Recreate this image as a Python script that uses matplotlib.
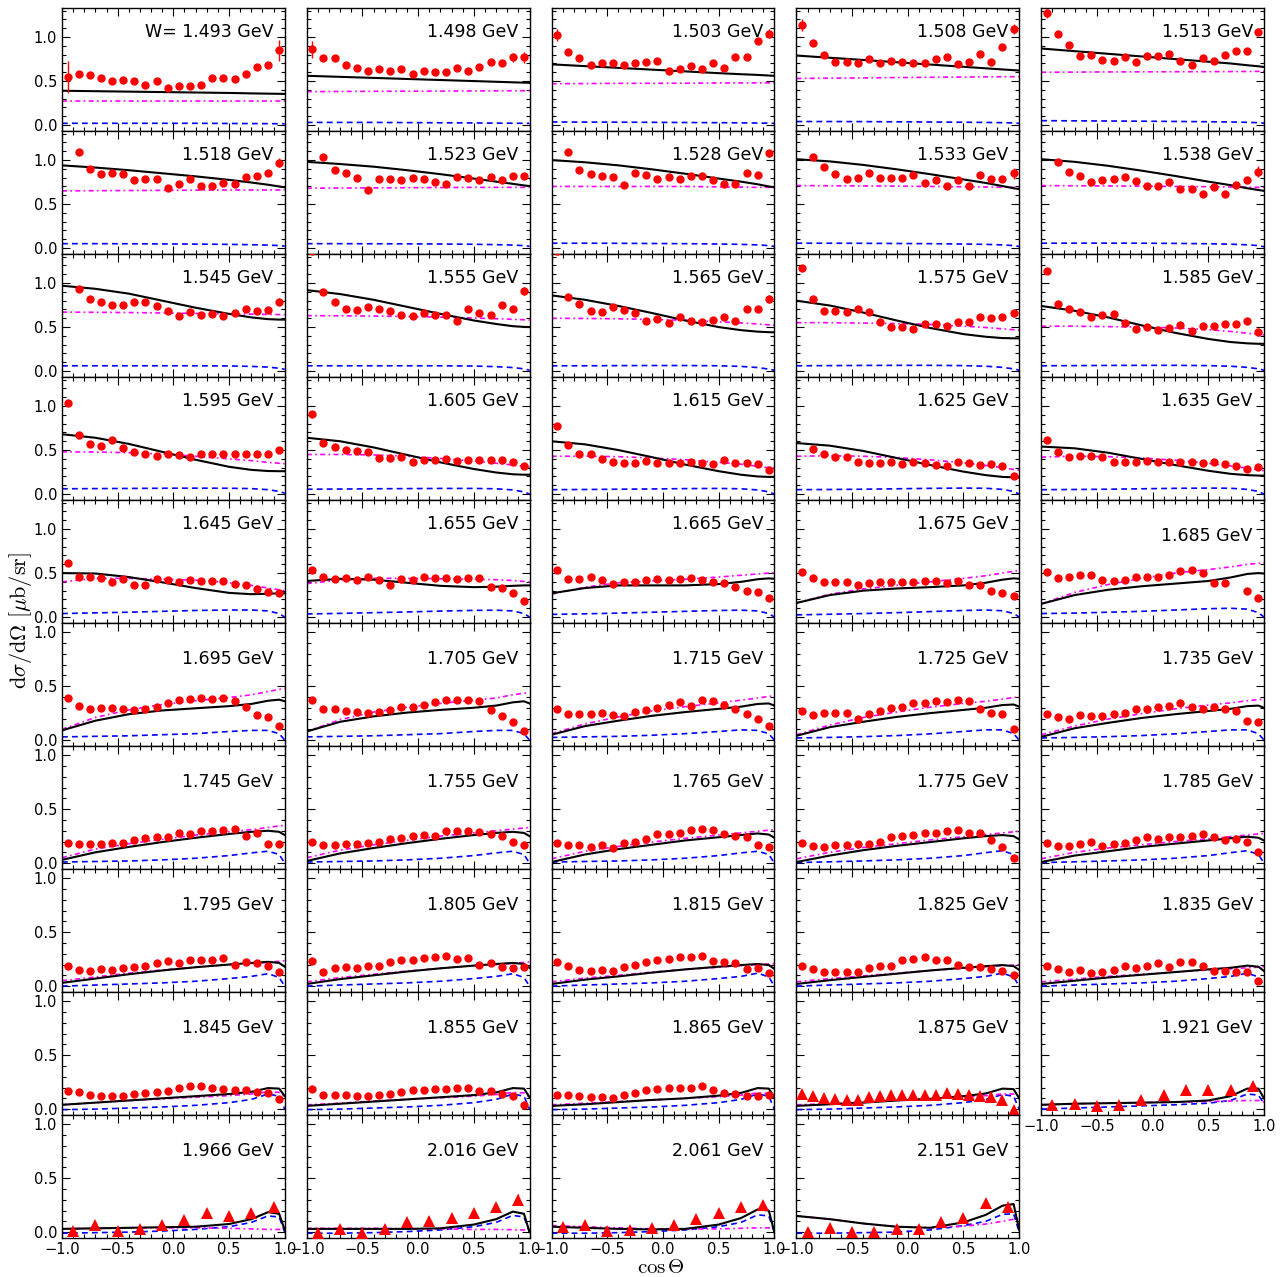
import numpy as np
import matplotlib.pyplot as plt
from matplotlib.ticker import MultipleLocator

plt.rcParams['mathtext.fontset'] = 'cm'
plt.rcParams['font.family'] = 'DejaVu Sans'

na = np.nan

# W bins (GeV)
energies = ['1.493', '1.498', '1.503', '1.508', '1.513',
            '1.518', '1.523', '1.528', '1.533', '1.538',
            '1.545', '1.555', '1.565', '1.575', '1.585',
            '1.595', '1.605', '1.615', '1.625', '1.635',
            '1.645', '1.655', '1.665', '1.675', '1.685',
            '1.695', '1.705', '1.715', '1.725', '1.735',
            '1.745', '1.755', '1.765', '1.775', '1.785',
            '1.795', '1.805', '1.815', '1.825', '1.835',
            '1.845', '1.855', '1.865', '1.875', '1.921',
            '1.966', '2.016', '2.061', '2.151']

# angular bins of the data sets
cos_fine = [-0.95, -0.85, -0.75, -0.65, -0.55, -0.45, -0.35, -0.25, -0.15, -0.05,
            0.05, 0.15, 0.25, 0.35, 0.45, 0.55, 0.65, 0.75, 0.85, 0.95]
cos_coarse = [-0.9, -0.7, -0.5, -0.3, -0.1, 0.1, 0.3, 0.5, 0.7, 0.9]
# angles where the model curves are tabulated
cos_model = [-1.0, -0.7, -0.4, -0.1, 0.2, 0.5, 0.7, 0.85, 0.95, 1.0]

# measured dsigma/dOmega [mub/sr]
xsec = [
    [0.55, 0.58, 0.57, 0.53, 0.50, 0.51, 0.50, 0.45, 0.50, 0.42, 0.44, 0.44, 0.46, 0.53, 0.54, 0.52, 0.58, 0.66, 0.68, 0.85],
    [0.86, 0.76, 0.76, 0.68, 0.65, 0.61, 0.64, 0.62, 0.64, 0.58, 0.61, 0.60, 0.60, 0.65, 0.61, 0.66, 0.72, 0.71, 0.77, 0.77],
    [1.02, 0.83, 0.76, 0.68, 0.71, 0.70, 0.68, 0.70, 0.72, 0.73, 0.62, 0.64, 0.67, 0.64, 0.70, 0.65, 0.77, 0.77, 0.95, 1.04],
    [1.14, 0.93, 0.80, 0.72, 0.72, 0.70, 0.75, 0.71, 0.73, 0.72, 0.70, 0.70, 0.75, 0.77, 0.69, 0.72, 0.81, 0.72, 0.89, 1.09],
    [1.27, 1.04, 0.91, 0.79, 0.80, 0.74, 0.73, 0.77, 0.72, 0.78, 0.79, 0.81, 0.73, 0.68, 0.76, 0.73, 0.80, 0.84, 0.84, 1.06],
    [na, 1.09, 0.90, 0.84, 0.85, 0.84, 0.77, 0.78, 0.78, 0.68, 0.73, 0.79, 0.71, 0.71, 0.74, 0.73, 0.81, 0.82, 0.85, 0.97],
    [na, 1.04, 0.89, 0.85, 0.80, 0.66, 0.78, 0.78, 0.77, 0.80, 0.79, 0.75, 0.73, 0.81, 0.80, 0.77, 0.81, 0.77, 0.82, 0.82],
    [na, 1.09, 0.89, 0.84, 0.82, 0.81, 0.72, 0.85, 0.83, 0.78, 0.81, 0.78, 0.82, 0.82, 0.77, 0.73, 0.73, 0.85, 0.83, 1.08],
    [na, 1.04, 0.92, 0.84, 0.79, 0.80, 0.85, 0.80, 0.80, 0.80, 0.83, 0.74, 0.77, 0.71, 0.77, 0.71, 0.83, 0.79, 0.79, 0.85],
    [na, 0.98, 0.87, 0.82, 0.75, 0.77, 0.78, 0.81, 0.76, 0.71, 0.71, 0.75, 0.67, 0.67, 0.61, 0.69, 0.61, 0.72, 0.77, 0.87],
    [na, 0.93, 0.82, 0.79, 0.75, 0.75, 0.78, 0.78, 0.74, 0.68, 0.63, 0.67, 0.64, 0.65, 0.63, 0.66, 0.70, 0.68, 0.69, 0.79],
    [1.36, 0.90, 0.78, 0.71, 0.69, 0.73, 0.71, 0.68, 0.64, 0.63, 0.66, 0.64, 0.64, 0.57, 0.70, 0.66, 0.64, 0.75, 0.70, 0.91],
    [1.36, 0.84, 0.76, 0.68, 0.67, 0.73, 0.69, 0.66, 0.57, 0.59, 0.55, 0.61, 0.57, 0.56, 0.58, 0.62, 0.57, 0.71, 0.71, 0.82],
    [1.17, 0.82, 0.68, 0.68, 0.67, 0.70, 0.67, 0.56, 0.50, 0.50, 0.48, 0.53, 0.53, 0.51, 0.56, 0.56, 0.62, 0.60, 0.61, 0.66],
    [1.14, 0.76, 0.70, 0.67, 0.61, 0.64, 0.65, 0.55, 0.48, 0.50, 0.47, 0.49, 0.52, 0.46, 0.51, 0.51, 0.53, 0.54, 0.57, 0.44],
    [1.03, 0.67, 0.57, 0.55, 0.61, 0.52, 0.48, 0.46, 0.43, 0.46, 0.44, 0.42, 0.46, 0.46, 0.45, 0.46, 0.46, 0.46, 0.46, 0.50],
    [0.91, 0.58, 0.54, 0.50, 0.49, 0.48, 0.41, 0.41, 0.42, 0.37, 0.39, 0.39, 0.40, 0.38, 0.39, 0.39, 0.39, 0.39, 0.36, 0.32],
    [0.77, 0.56, 0.45, 0.45, 0.40, 0.37, 0.35, 0.35, 0.38, 0.35, 0.35, 0.35, 0.36, 0.35, 0.34, 0.39, 0.35, 0.35, 0.34, 0.27],
    [na, 0.51, 0.45, 0.42, 0.42, 0.36, 0.35, 0.35, 0.37, 0.34, 0.36, 0.35, 0.33, 0.32, 0.37, 0.35, 0.33, 0.34, 0.32, 0.21],
    [0.62, 0.48, 0.42, 0.43, 0.43, 0.42, 0.37, 0.36, 0.37, 0.38, 0.36, 0.37, 0.37, 0.37, 0.35, 0.36, 0.34, 0.32, 0.29, 0.31],
    [0.61, 0.46, 0.46, 0.44, 0.40, 0.43, 0.37, 0.36, 0.43, 0.42, 0.40, 0.42, 0.41, 0.41, 0.41, 0.38, 0.37, 0.32, 0.29, 0.27],
    [0.53, 0.46, 0.43, 0.44, 0.42, 0.46, 0.42, 0.37, 0.43, 0.42, 0.46, 0.44, 0.44, 0.43, 0.44, 0.44, 0.34, 0.33, 0.27, 0.18],
    [0.54, 0.43, 0.43, 0.46, 0.42, 0.38, 0.40, 0.40, 0.42, 0.43, 0.42, 0.43, 0.44, 0.42, 0.40, 0.39, 0.34, 0.30, 0.28, 0.22],
    [0.51, 0.44, 0.40, 0.40, 0.40, 0.37, 0.39, 0.40, 0.40, 0.40, 0.40, 0.41, 0.41, 0.39, 0.41, 0.36, 0.36, 0.30, 0.27, 0.24],
    [0.51, 0.44, 0.46, 0.48, 0.48, 0.42, 0.41, 0.42, 0.45, 0.45, 0.45, 0.48, 0.52, 0.53, 0.50, 0.39, 0.39, na, 0.30, 0.22],
    [0.39, 0.32, 0.29, 0.30, 0.30, 0.29, 0.28, 0.29, 0.31, 0.34, 0.37, 0.38, 0.39, 0.38, 0.39, 0.36, 0.31, 0.23, 0.21, 0.13],
    [0.37, 0.29, 0.29, 0.27, 0.26, 0.25, 0.26, 0.28, 0.31, 0.31, 0.33, 0.35, 0.37, 0.37, 0.37, 0.36, 0.28, 0.22, 0.17, 0.08],
    [0.29, 0.24, 0.24, 0.24, 0.25, 0.23, 0.22, 0.26, 0.28, 0.30, 0.33, 0.35, 0.32, 0.37, 0.36, 0.33, 0.29, 0.24, 0.20, 0.13],
    [0.27, 0.23, 0.25, 0.25, 0.25, 0.20, 0.24, 0.27, 0.30, 0.31, 0.34, 0.34, 0.36, 0.35, 0.37, 0.36, 0.29, 0.25, 0.24, 0.10],
    [0.24, 0.21, 0.20, 0.23, 0.22, 0.22, 0.24, 0.25, 0.29, 0.29, 0.31, 0.32, 0.34, 0.31, 0.29, 0.31, 0.29, 0.27, 0.18, 0.17],
    [0.19, 0.18, 0.18, 0.18, 0.19, 0.19, 0.21, 0.23, 0.24, 0.24, 0.28, 0.27, 0.30, 0.30, 0.31, 0.32, 0.25, 0.28, 0.18, 0.18],
    [0.20, 0.17, 0.17, 0.18, 0.18, 0.19, 0.20, 0.22, 0.23, 0.25, 0.26, 0.25, 0.30, 0.30, 0.30, 0.29, 0.27, 0.25, 0.20, 0.17],
    [0.19, 0.17, 0.17, 0.15, 0.17, 0.14, 0.19, 0.20, 0.22, 0.27, 0.27, 0.28, 0.31, 0.32, 0.31, 0.27, 0.25, 0.24, 0.17, 0.15],
    [0.19, 0.16, 0.15, 0.17, 0.17, 0.18, 0.18, 0.20, 0.24, 0.25, 0.26, 0.28, 0.28, 0.30, 0.31, 0.28, 0.28, 0.21, 0.15, 0.05],
    [0.19, 0.16, 0.16, 0.18, 0.20, 0.16, 0.18, 0.19, 0.21, 0.24, 0.22, 0.24, 0.24, 0.25, 0.27, 0.24, 0.21, 0.22, 0.20, 0.10],
    [0.19, 0.15, 0.14, 0.16, 0.15, 0.17, 0.18, 0.19, 0.21, 0.23, 0.21, 0.24, 0.24, 0.24, 0.26, 0.20, 0.22, 0.21, 0.19, 0.13],
    [0.23, 0.13, 0.17, 0.18, 0.17, 0.19, 0.19, 0.22, 0.24, 0.24, 0.26, 0.27, 0.28, 0.25, 0.26, 0.20, 0.21, 0.18, 0.17, 0.18],
    [0.22, 0.19, 0.15, 0.14, 0.15, 0.14, 0.18, 0.20, 0.22, 0.24, 0.25, 0.27, 0.27, 0.28, 0.23, 0.22, 0.21, 0.16, 0.17, 0.12],
    [0.19, 0.16, 0.13, 0.13, 0.13, 0.13, 0.17, 0.19, 0.19, 0.24, 0.25, 0.27, 0.24, 0.24, 0.20, 0.18, 0.18, 0.16, 0.14, 0.10],
    [0.19, 0.16, 0.13, 0.15, 0.12, 0.13, 0.15, 0.19, 0.17, 0.19, 0.21, 0.18, 0.22, 0.22, 0.19, 0.14, 0.14, 0.13, 0.13, 0.05],
    [0.17, 0.16, 0.13, 0.12, 0.12, 0.12, 0.14, 0.15, 0.16, 0.17, 0.20, 0.21, 0.21, 0.20, 0.19, 0.18, 0.18, 0.16, 0.15, 0.09],
    [0.19, 0.13, 0.13, 0.13, 0.12, 0.12, 0.13, 0.14, 0.16, 0.18, 0.18, 0.19, 0.19, 0.20, 0.20, 0.17, 0.17, 0.14, 0.12, 0.04],
    [0.13, 0.13, 0.12, 0.11, 0.11, 0.10, 0.13, 0.15, 0.18, 0.19, 0.20, 0.20, 0.20, 0.21, 0.18, 0.15, 0.14, 0.12, 0.12, 0.13],
    [0.14, 0.12, 0.10, 0.09, 0.08, 0.08, 0.11, 0.12, 0.13, 0.13, 0.13, 0.13, 0.13, 0.15, 0.14, 0.13, 0.12, 0.11, 0.08, -0.01],
    [0.04, 0.05, 0.03, 0.04, 0.08, 0.13, 0.18, 0.18, 0.18, 0.21],
    [0.01, 0.07, 0.01, 0.03, 0.07, 0.11, 0.18, 0.15, 0.18, 0.23],
    [-0.01, 0.03, -0.01, 0.03, 0.09, 0.10, 0.13, 0.18, 0.23, 0.30],
    [0.05, 0.07, 0.01, 0.02, 0.04, 0.07, 0.12, 0.18, 0.23, 0.25],
    [0.00, 0.04, 0.00, 0.00, 0.03, 0.03, 0.09, 0.13, 0.27, 0.23],
]

# typical uncertainty of a point, and the few wide ones (panel, point): error
err_typical = [0.02] * 25 + [0.015] * 24
err_wide = {(0, 0): 0.18, (0, 19): 0.12, (1, 0): 0.10, (1, 18): 0.05, (1, 19): 0.06,
            (2, 0): 0.07, (2, 19): 0.05, (3, 0): 0.07, (3, 19): 0.06, (4, 0): 0.05,
            (4, 19): 0.04, (5, 19): 0.05, (7, 19): 0.04, (8, 19): 0.06, (9, 19): 0.06,
            (10, 19): 0.04, (11, 19): 0.05, (12, 19): 0.05, (13, 19): 0.05, (14, 19): 0.04,
            (46, 9): 0.05}

# full model (solid black)
model_full = [
    [0.39, 0.385, 0.38, 0.375, 0.37, 0.365, 0.36, 0.357, 0.355, 0.354],
    [0.56, 0.548, 0.536, 0.524, 0.512, 0.50, 0.492, 0.486, 0.482, 0.48],
    [0.69, 0.67, 0.65, 0.63, 0.61, 0.59, 0.578, 0.57, 0.563, 0.56],
    [0.79, 0.765, 0.74, 0.714, 0.688, 0.662, 0.645, 0.632, 0.624, 0.62],
    [0.87, 0.84, 0.81, 0.78, 0.75, 0.72, 0.70, 0.68, 0.668, 0.66],
    [0.94, 0.915, 0.885, 0.85, 0.815, 0.775, 0.745, 0.72, 0.70, 0.69],
    [0.98, 0.955, 0.925, 0.885, 0.84, 0.79, 0.755, 0.73, 0.712, 0.705],
    [1.00, 0.975, 0.94, 0.895, 0.845, 0.79, 0.755, 0.725, 0.70, 0.69],
    [1.01, 0.985, 0.945, 0.895, 0.84, 0.78, 0.74, 0.705, 0.68, 0.67],
    [1.01, 0.98, 0.935, 0.88, 0.82, 0.755, 0.715, 0.68, 0.66, 0.65],
    [0.97, 0.935, 0.88, 0.80, 0.72, 0.65, 0.61, 0.59, 0.585, 0.585],
    [0.92, 0.875, 0.81, 0.73, 0.65, 0.575, 0.535, 0.51, 0.502, 0.50],
    [0.86, 0.81, 0.74, 0.66, 0.575, 0.50, 0.465, 0.448, 0.442, 0.44],
    [0.80, 0.745, 0.665, 0.575, 0.49, 0.42, 0.39, 0.375, 0.372, 0.372],
    [0.74, 0.685, 0.61, 0.52, 0.435, 0.365, 0.33, 0.315, 0.31, 0.31],
    [0.68, 0.64, 0.57, 0.48, 0.39, 0.31, 0.275, 0.262, 0.26, 0.26],
    [0.64, 0.60, 0.53, 0.445, 0.36, 0.285, 0.245, 0.225, 0.22, 0.22],
    [0.60, 0.565, 0.50, 0.42, 0.335, 0.26, 0.22, 0.20, 0.195, 0.195],
    [0.58, 0.55, 0.49, 0.41, 0.33, 0.255, 0.215, 0.195, 0.19, 0.19],
    [0.54, 0.52, 0.47, 0.40, 0.33, 0.265, 0.23, 0.215, 0.21, 0.21],
    [0.50, 0.495, 0.455, 0.395, 0.33, 0.275, 0.26, 0.265, 0.27, 0.27],
    [0.41, 0.435, 0.425, 0.39, 0.355, 0.34, 0.345, 0.355, 0.36, 0.36],
    [0.27, 0.33, 0.36, 0.36, 0.36, 0.375, 0.40, 0.43, 0.44, 0.435],
    [0.16, 0.25, 0.30, 0.325, 0.34, 0.36, 0.39, 0.425, 0.44, 0.435],
    [0.15, 0.25, 0.31, 0.35, 0.38, 0.41, 0.45, 0.49, 0.50, 0.495],
    [0.09, 0.18, 0.24, 0.275, 0.295, 0.315, 0.335, 0.365, 0.375, 0.36],
    [0.08, 0.17, 0.22, 0.255, 0.28, 0.30, 0.32, 0.35, 0.36, 0.34],
    [0.05, 0.13, 0.18, 0.225, 0.26, 0.29, 0.31, 0.335, 0.34, 0.32],
    [0.04, 0.12, 0.17, 0.215, 0.25, 0.28, 0.30, 0.325, 0.33, 0.31],
    [0.03, 0.11, 0.16, 0.205, 0.24, 0.27, 0.29, 0.315, 0.32, 0.30],
    [0.03, 0.10, 0.15, 0.195, 0.235, 0.27, 0.29, 0.30, 0.29, 0.26],
    [0.02, 0.09, 0.14, 0.185, 0.225, 0.26, 0.28, 0.29, 0.28, 0.25],
    [0.01, 0.08, 0.13, 0.17, 0.21, 0.24, 0.26, 0.275, 0.265, 0.235],
    [0.01, 0.07, 0.12, 0.16, 0.195, 0.23, 0.25, 0.26, 0.25, 0.22],
    [0.01, 0.07, 0.11, 0.15, 0.18, 0.21, 0.23, 0.245, 0.235, 0.21],
    [0.03, 0.07, 0.11, 0.145, 0.175, 0.20, 0.215, 0.225, 0.215, 0.18],
    [0.02, 0.065, 0.10, 0.135, 0.165, 0.19, 0.205, 0.215, 0.205, 0.17],
    [0.02, 0.06, 0.09, 0.125, 0.155, 0.18, 0.195, 0.205, 0.195, 0.16],
    [0.02, 0.055, 0.085, 0.115, 0.145, 0.17, 0.185, 0.195, 0.185, 0.15],
    [0.02, 0.05, 0.08, 0.105, 0.13, 0.155, 0.17, 0.19, 0.18, 0.14],
    [0.04, 0.06, 0.08, 0.10, 0.12, 0.14, 0.16, 0.195, 0.19, 0.12],
    [0.03, 0.05, 0.07, 0.09, 0.11, 0.13, 0.155, 0.195, 0.19, 0.11],
    [0.03, 0.045, 0.065, 0.085, 0.10, 0.125, 0.15, 0.195, 0.19, 0.11],
    [0.03, 0.045, 0.06, 0.08, 0.095, 0.12, 0.145, 0.19, 0.185, 0.10],
    [0.04, 0.05, 0.055, 0.06, 0.065, 0.08, 0.12, 0.19, 0.19, 0.10],
    [0.03, 0.035, 0.04, 0.045, 0.05, 0.075, 0.12, 0.185, 0.17, 0.02],
    [0.03, 0.03, 0.03, 0.03, 0.035, 0.07, 0.12, 0.19, 0.17, 0.00],
    [0.05, 0.04, 0.03, 0.025, 0.03, 0.07, 0.13, 0.21, 0.20, 0.00],
    [0.15, 0.12, 0.08, 0.05, 0.04, 0.09, 0.16, 0.245, 0.26, 0.02],
]

# partial model (magenta dash-dot)
model_dashdot = [
    [0.27, 0.27, 0.27, 0.27, 0.27, 0.27, 0.27, 0.27, 0.27, 0.27],
    [0.38, 0.382, 0.384, 0.385, 0.386, 0.388, 0.389, 0.39, 0.39, 0.39],
    [0.47, 0.472, 0.474, 0.475, 0.476, 0.478, 0.479, 0.48, 0.48, 0.48],
    [0.53, 0.533, 0.536, 0.54, 0.543, 0.546, 0.548, 0.549, 0.55, 0.55],
    [0.60, 0.602, 0.604, 0.605, 0.606, 0.607, 0.608, 0.609, 0.61, 0.61],
    [0.65, 0.652, 0.654, 0.656, 0.658, 0.66, 0.66, 0.66, 0.66, 0.66],
    [0.68, 0.682, 0.684, 0.686, 0.688, 0.69, 0.69, 0.69, 0.69, 0.69],
    [0.70, 0.70, 0.70, 0.70, 0.70, 0.695, 0.693, 0.69, 0.69, 0.69],
    [0.71, 0.708, 0.706, 0.704, 0.70, 0.697, 0.694, 0.692, 0.69, 0.69],
    [0.71, 0.708, 0.706, 0.704, 0.70, 0.697, 0.694, 0.692, 0.69, 0.69],
    [0.67, 0.668, 0.665, 0.66, 0.655, 0.65, 0.647, 0.644, 0.642, 0.64],
    [0.63, 0.628, 0.625, 0.62, 0.613, 0.603, 0.595, 0.588, 0.583, 0.58],
    [0.60, 0.598, 0.594, 0.587, 0.577, 0.56, 0.547, 0.535, 0.525, 0.52],
    [0.55, 0.55, 0.545, 0.54, 0.53, 0.51, 0.495, 0.48, 0.47, 0.465],
    [0.51, 0.51, 0.505, 0.50, 0.49, 0.47, 0.45, 0.43, 0.415, 0.41],
    [0.48, 0.478, 0.47, 0.455, 0.43, 0.40, 0.38, 0.36, 0.35, 0.345],
    [0.45, 0.45, 0.445, 0.43, 0.405, 0.375, 0.35, 0.33, 0.315, 0.31],
    [0.43, 0.43, 0.425, 0.41, 0.39, 0.36, 0.34, 0.315, 0.30, 0.295],
    [0.43, 0.435, 0.43, 0.415, 0.39, 0.355, 0.325, 0.30, 0.28, 0.27],
    [0.42, 0.43, 0.425, 0.41, 0.385, 0.35, 0.32, 0.295, 0.275, 0.265],
    [0.40, 0.44, 0.44, 0.43, 0.42, 0.39, 0.36, 0.33, 0.31, 0.30],
    [0.38, 0.42, 0.44, 0.44, 0.435, 0.43, 0.425, 0.415, 0.405, 0.40],
    [0.26, 0.34, 0.39, 0.41, 0.43, 0.455, 0.475, 0.49, 0.50, 0.505],
    [0.16, 0.26, 0.32, 0.36, 0.40, 0.44, 0.47, 0.50, 0.52, 0.53],
    [0.15, 0.28, 0.37, 0.44, 0.50, 0.54, 0.57, 0.60, 0.61, 0.62],
    [0.10, 0.21, 0.28, 0.33, 0.365, 0.395, 0.42, 0.45, 0.47, 0.48],
    [0.08, 0.19, 0.26, 0.305, 0.34, 0.37, 0.39, 0.42, 0.435, 0.44],
    [0.06, 0.15, 0.215, 0.27, 0.31, 0.345, 0.37, 0.39, 0.405, 0.41],
    [0.05, 0.14, 0.21, 0.26, 0.305, 0.34, 0.36, 0.38, 0.395, 0.40],
    [0.05, 0.13, 0.195, 0.245, 0.29, 0.325, 0.345, 0.365, 0.375, 0.38],
    [0.05, 0.13, 0.18, 0.22, 0.26, 0.29, 0.31, 0.33, 0.345, 0.35],
    [0.05, 0.12, 0.17, 0.21, 0.25, 0.28, 0.30, 0.315, 0.325, 0.33],
    [0.04, 0.11, 0.155, 0.195, 0.23, 0.26, 0.28, 0.295, 0.305, 0.31],
    [0.04, 0.10, 0.145, 0.18, 0.215, 0.245, 0.265, 0.28, 0.29, 0.295],
    [0.04, 0.10, 0.14, 0.17, 0.20, 0.225, 0.245, 0.26, 0.27, 0.275],
    [0.05, 0.085, 0.12, 0.15, 0.175, 0.20, 0.21, 0.22, 0.23, 0.235],
    [0.04, 0.08, 0.11, 0.14, 0.165, 0.19, 0.20, 0.21, 0.22, 0.225],
    [0.04, 0.075, 0.10, 0.13, 0.155, 0.175, 0.19, 0.20, 0.205, 0.21],
    [0.04, 0.07, 0.095, 0.12, 0.145, 0.165, 0.18, 0.19, 0.195, 0.20],
    [0.04, 0.065, 0.09, 0.11, 0.13, 0.15, 0.16, 0.17, 0.175, 0.18],
    [0.04, 0.06, 0.08, 0.095, 0.11, 0.125, 0.14, 0.16, 0.155, 0.12],
    [0.04, 0.055, 0.075, 0.09, 0.105, 0.12, 0.135, 0.155, 0.15, 0.11],
    [0.04, 0.055, 0.07, 0.085, 0.10, 0.115, 0.13, 0.15, 0.145, 0.11],
    [0.04, 0.05, 0.065, 0.08, 0.095, 0.11, 0.125, 0.14, 0.14, 0.11],
    [0.04, 0.05, 0.055, 0.06, 0.065, 0.07, 0.075, 0.08, 0.08, 0.065],
    [0.03, 0.035, 0.04, 0.04, 0.04, 0.035, 0.03, 0.025, 0.025, 0.02],
    [0.035, 0.035, 0.035, 0.03, 0.03, 0.025, 0.025, 0.022, 0.02, 0.02],
    [0.06, 0.05, 0.04, 0.03, 0.03, 0.03, 0.035, 0.04, 0.04, 0.03],
    [0.15, 0.12, 0.08, 0.05, 0.04, 0.055, 0.075, 0.10, 0.12, 0.12],
]

# partial model (blue dashed)
model_dashed = [
    [0.02, 0.02, 0.02, 0.02, 0.02, 0.018, 0.017, 0.016, 0.015, 0.015],
    [0.03, 0.03, 0.03, 0.028, 0.026, 0.024, 0.022, 0.021, 0.02, 0.02],
    [0.035, 0.034, 0.033, 0.031, 0.029, 0.027, 0.025, 0.023, 0.021, 0.02],
    [0.04, 0.04, 0.039, 0.037, 0.035, 0.032, 0.03, 0.027, 0.024, 0.02],
    [0.05, 0.048, 0.046, 0.044, 0.041, 0.038, 0.035, 0.031, 0.027, 0.022],
    [0.05, 0.05, 0.049, 0.047, 0.045, 0.042, 0.038, 0.034, 0.028, 0.022],
    [0.05, 0.05, 0.049, 0.048, 0.046, 0.043, 0.039, 0.034, 0.028, 0.02],
    [0.055, 0.055, 0.054, 0.052, 0.05, 0.046, 0.042, 0.036, 0.028, 0.018],
    [0.055, 0.055, 0.054, 0.052, 0.05, 0.046, 0.042, 0.036, 0.028, 0.018],
    [0.055, 0.056, 0.056, 0.055, 0.053, 0.049, 0.044, 0.037, 0.028, 0.015],
    [0.06, 0.06, 0.06, 0.06, 0.06, 0.058, 0.053, 0.045, 0.032, 0.02],
    [0.06, 0.06, 0.06, 0.06, 0.06, 0.057, 0.05, 0.04, 0.025, 0.01],
    [0.06, 0.06, 0.062, 0.063, 0.063, 0.06, 0.053, 0.04, 0.022, 0.01],
    [0.06, 0.062, 0.064, 0.065, 0.065, 0.062, 0.055, 0.042, 0.025, 0.01],
    [0.06, 0.062, 0.064, 0.065, 0.065, 0.062, 0.055, 0.042, 0.025, 0.01],
    [0.06, 0.062, 0.064, 0.066, 0.067, 0.066, 0.062, 0.05, 0.03, 0.01],
    [0.055, 0.057, 0.06, 0.062, 0.064, 0.064, 0.06, 0.047, 0.025, 0.0],
    [0.05, 0.052, 0.055, 0.058, 0.062, 0.064, 0.06, 0.047, 0.025, 0.0],
    [0.05, 0.052, 0.055, 0.06, 0.065, 0.068, 0.066, 0.053, 0.03, 0.0],
    [0.05, 0.052, 0.055, 0.06, 0.065, 0.068, 0.066, 0.053, 0.03, 0.0],
    [0.04, 0.048, 0.055, 0.065, 0.075, 0.08, 0.08, 0.07, 0.04, 0.0],
    [0.035, 0.042, 0.05, 0.058, 0.068, 0.076, 0.078, 0.07, 0.04, 0.0],
    [0.03, 0.037, 0.045, 0.055, 0.065, 0.075, 0.078, 0.07, 0.04, 0.0],
    [0.025, 0.032, 0.04, 0.05, 0.062, 0.075, 0.08, 0.072, 0.04, 0.0],
    [0.04, 0.045, 0.055, 0.065, 0.08, 0.095, 0.10, 0.09, 0.05, 0.0],
    [0.03, 0.035, 0.04, 0.05, 0.06, 0.08, 0.09, 0.09, 0.06, 0.0],
    [0.03, 0.035, 0.04, 0.05, 0.06, 0.08, 0.09, 0.09, 0.06, 0.0],
    [0.025, 0.03, 0.035, 0.045, 0.06, 0.08, 0.095, 0.09, 0.06, 0.0],
    [0.02, 0.025, 0.032, 0.042, 0.058, 0.08, 0.095, 0.095, 0.06, 0.0],
    [0.02, 0.025, 0.032, 0.042, 0.058, 0.08, 0.095, 0.095, 0.06, 0.0],
    [0.01, 0.015, 0.02, 0.03, 0.045, 0.07, 0.095, 0.11, 0.08, 0.0],
    [0.01, 0.015, 0.02, 0.03, 0.045, 0.07, 0.095, 0.11, 0.08, 0.0],
    [0.01, 0.015, 0.02, 0.03, 0.045, 0.07, 0.095, 0.11, 0.08, 0.0],
    [0.005, 0.012, 0.02, 0.03, 0.045, 0.07, 0.097, 0.115, 0.08, 0.0],
    [0.005, 0.012, 0.02, 0.03, 0.045, 0.07, 0.097, 0.115, 0.08, 0.0],
    [0.0, 0.01, 0.02, 0.03, 0.045, 0.07, 0.09, 0.115, 0.08, 0.0],
    [0.0, 0.01, 0.02, 0.03, 0.045, 0.07, 0.09, 0.115, 0.08, 0.0],
    [0.0, 0.01, 0.02, 0.03, 0.045, 0.07, 0.09, 0.12, 0.085, 0.0],
    [0.0, 0.01, 0.02, 0.03, 0.045, 0.07, 0.09, 0.12, 0.085, 0.0],
    [0.0, 0.01, 0.02, 0.03, 0.045, 0.07, 0.09, 0.12, 0.085, 0.0],
    [-0.005, 0.0, 0.01, 0.02, 0.035, 0.06, 0.09, 0.14, 0.12, 0.0],
    [-0.005, 0.0, 0.01, 0.02, 0.035, 0.06, 0.09, 0.14, 0.12, 0.0],
    [-0.005, 0.0, 0.01, 0.02, 0.035, 0.06, 0.09, 0.14, 0.12, 0.0],
    [-0.005, 0.0, 0.01, 0.02, 0.035, 0.06, 0.09, 0.135, 0.12, 0.0],
    [0.0, 0.01, 0.02, 0.03, 0.04, 0.055, 0.08, 0.14, 0.13, 0.05],
    [-0.01, -0.005, 0.0, 0.01, 0.025, 0.05, 0.09, 0.15, 0.14, 0.0],
    [-0.01, -0.01, -0.005, 0.005, 0.02, 0.05, 0.09, 0.155, 0.14, 0.0],
    [-0.01, -0.01, -0.005, 0.005, 0.02, 0.05, 0.09, 0.16, 0.15, 0.0],
    [-0.01, -0.01, -0.005, 0.0, 0.02, 0.06, 0.10, 0.165, 0.17, 0.0],
]

nrow, ncol = 10, 5
fig = plt.figure(figsize=(12.8, 12.77), dpi=100)
gs = fig.add_gridspec(nrow, ncol, left=0.0484, right=0.9875, top=0.9937,
                      bottom=0.0305, wspace=0.099, hspace=0.0)

for i, w in enumerate(energies):
    r, c = divmod(i, ncol)
    ax = fig.add_subplot(gs[r, c])

    ax.plot(cos_model, model_dashed[i], color='b', lw=1.2, dashes=(3.5, 2.5))
    ax.plot(cos_model, model_dashdot[i], color='#ff00ff', lw=1.2,
            dashes=(3, 2, 1, 2))
    ax.plot(cos_model, model_full[i], color='k', lw=1.5)

    y = np.array(xsec[i], dtype=float)
    if len(y) == 20:
        x = cos_fine
    else:
        x = cos_coarse
    yerr = np.full(len(y), err_typical[i])
    for (p, k), e in err_wide.items():
        if p == i:
            yerr[k] = e
    marker = 'o' if i < 43 else '^'
    ms = 6 if marker == 'o' else 8
    ax.errorbar(x, y, yerr=yerr, fmt=marker, color='r', ms=ms, mew=0,
                elinewidth=1, capsize=0, zorder=3)

    ax.set_xlim(-1.0, 1.0)
    if i < 25:
        ax.set_ylim(-0.068, 1.33)
    else:
        ax.set_ylim(-0.055, 1.085)

    ax.xaxis.set_major_locator(MultipleLocator(0.5))
    ax.xaxis.set_minor_locator(MultipleLocator(0.1))
    ax.yaxis.set_major_locator(MultipleLocator(0.5))
    ax.yaxis.set_minor_locator(MultipleLocator(0.1))
    ax.tick_params(which='both', direction='in', top=True, right=True,
                   labelsize=10.5, width=0.8)
    ax.tick_params(which='major', length=6)
    ax.tick_params(which='minor', length=3)
    ax.tick_params(axis='x', pad=3)
    for s in ax.spines.values():
        s.set_linewidth(1.0)

    if c != 0:
        ax.set_yticklabels([])
    if not (r == nrow - 1 or i == 44):
        ax.set_xticklabels([])

    text = ('W= ' if i == 0 else '') + w + ' GeV'
    ty = 0.805 if i < 24 else 0.707
    ax.text(0.95, ty, text, transform=ax.transAxes, ha='right', va='center',
            fontsize=12.5)

fig.text(0.016, 0.514, r'$\mathrm{d}\sigma/\mathrm{d}\Omega\ [\mu\mathrm{b/sr}]$',
         rotation=90, ha='center', va='center', fontsize=16)
fig.text(0.516, 0.0075, r'$\cos\Theta$', ha='center', va='center', fontsize=15)

fig.savefig('out.png', dpi=100)
